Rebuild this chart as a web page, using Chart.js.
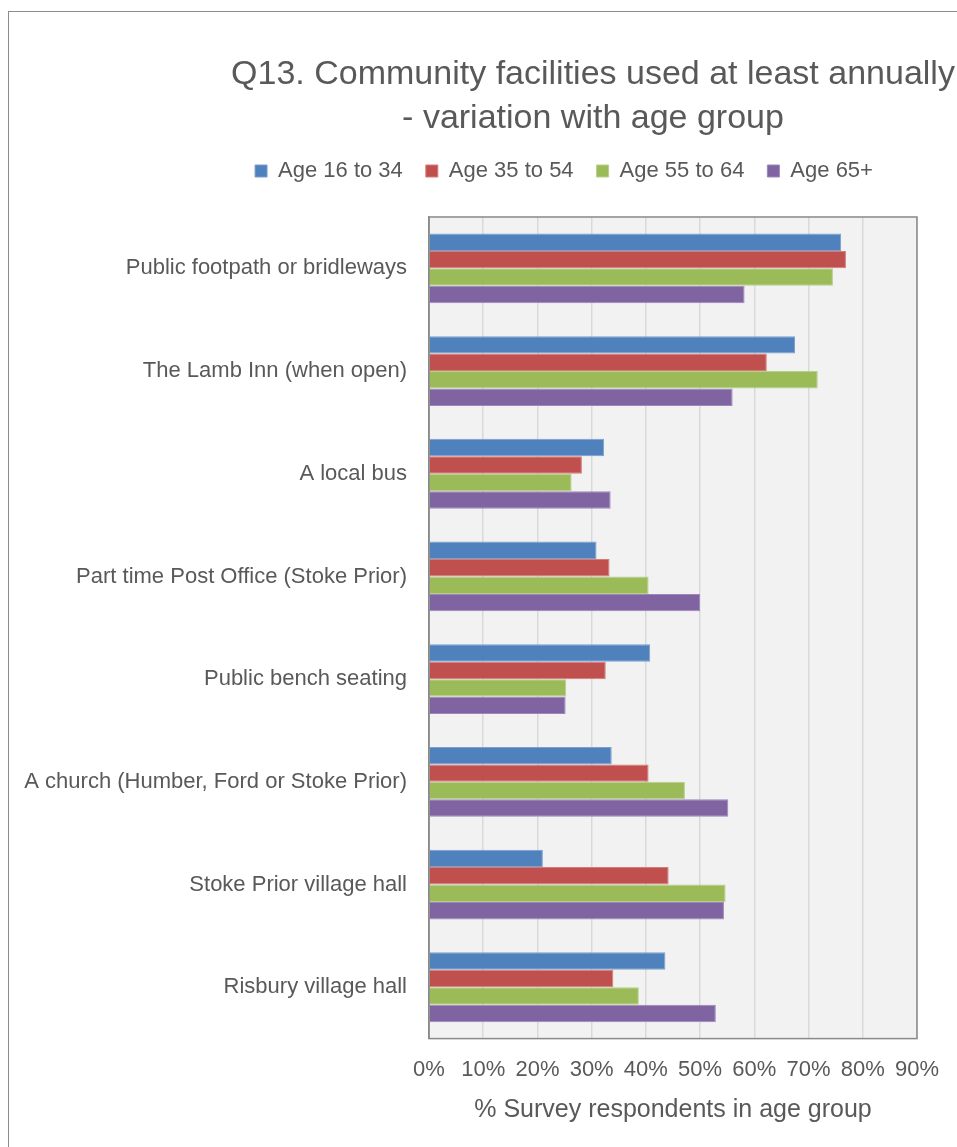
<!DOCTYPE html>
<html>
<head>
<meta charset="UTF-8">
<script src="https://cdn.jsdelivr.net/npm/chart.js@4"></script>
<style>
  html, body { margin: 0; padding: 0; background: #fff; overflow: hidden; }
  #wrap { position: relative; width: 957px; height: 1147px; overflow: hidden; }
  #frame { position: absolute; left: 8px; top: 11px; width: 2000px; height: 2000px; border: 1px solid #8c8c8c; }
  #chart { position: absolute; left: 0; top: 0; }
</style>
</head>
<body>
<div id="wrap">
  <div id="frame"></div>
  <canvas id="chart" width="957" height="1147"></canvas>
</div>
<script>
const categories = [
  "Public footpath or bridleways",
  "The Lamb Inn (when open)",
  "A local bus",
  "Part time Post Office (Stoke Prior)",
  "Public bench seating",
  "A church (Humber, Ford or Stoke Prior)",
  "Stoke Prior village hall",
  "Risbury village hall"
];
const seriesNames = ["Age 16 to 34", "Age 35 to 54", "Age 55 to 64", "Age 65+"];
const age16to34 = [76.0, 67.5, 32.3, 30.9, 40.8, 33.7, 21.0, 43.6];
const age35to54 = [76.9, 62.3, 28.2, 33.3, 32.6, 40.5, 44.2, 34.0];
const age55to64 = [74.5, 71.7, 26.3, 40.5, 25.3, 47.2, 54.7, 38.7];
const age65plus = [58.2, 56.0, 33.5, 50.0, 25.2, 55.2, 54.4, 52.9];
const xTicks = [0, 10, 20, 30, 40, 50, 60, 70, 80, 90];

const colors = ["#4f81bd", "#c0504d", "#9bbb59", "#8064a2"];
const edges = ["#7b9fd0", "#d57c79", "#b6d08a", "#9d86bd"];
const txt = "#595959";
const fontFam = "'Liberation Sans', Arial, sans-serif";

// grey plot background + frame round the plot area
const plotFrame = {
  id: "plotFrame",
  beforeDraw(chart) {
    const { ctx, chartArea: a } = chart;
    ctx.save();
    ctx.fillStyle = "#f2f2f2";
    ctx.fillRect(a.left, a.top, a.right - a.left, a.bottom - a.top);
    ctx.restore();
  },
  afterDraw(chart) {
    const { ctx, chartArea: a } = chart;
    ctx.save();
    ctx.strokeStyle = "#898989";
    ctx.lineWidth = 1.5;
    ctx.strokeRect(a.left, a.top, a.right - a.left, a.bottom - a.top);
    ctx.restore();
  }
};

// the original title is centred wider than the picture, legend sits a bit left
const headerPlacement = {
  id: "headerPlacement",
  afterLayout(chart) {
    const t = chart.titleBlock;
    t.left = 593 - 450;
    t.right = 593 + 450;
    const lg = chart.legend;
    const dx = 564 - (lg.left + lg.right) / 2;
    lg.left += dx;
    lg.right += dx;
    const dy = 137 - lg.top;
    lg.top += dy;
    lg.bottom += dy;
  }
};

const datasets = [age16to34, age35to54, age55to64, age65plus].map((d, i) => ({
  label: seriesNames[i],
  data: d,
  backgroundColor: colors[i],
  borderColor: edges[i],
  borderWidth: 1,
  borderSkipped: "start",
  categoryPercentage: 0.68,
  barPercentage: 1.0
}));

new Chart(document.getElementById("chart"), {
  type: "bar",
  data: { labels: categories, datasets },
  plugins: [plotFrame, headerPlacement],
  options: {
    indexAxis: "y",
    responsive: false,
    animation: false,
    devicePixelRatio: 1,
    layout: { padding: { left: 0, right: 39, top: 0, bottom: 22 } },
    plugins: {
      title: {
        display: true,
        text: ["Q13. Community facilities used at least annually", "- variation with age group"],
        color: txt,
        font: { family: fontFam, size: 34, weight: "normal", lineHeight: 1.294 },
        padding: { top: 53, bottom: 21 }
      },
      legend: {
        display: true,
        position: "top",
        labels: {
          color: txt,
          font: { family: fontFam, size: 22 },
          boxWidth: 12,
          boxHeight: 12,
          padding: 23
        }
      },
      tooltip: { enabled: false }
    },
    scales: {
      x: {
        type: "linear",
        min: 0,
        max: 90,
        afterBuildTicks(scale) { scale.ticks = xTicks.map(v => ({ value: v })); },
        ticks: {
          color: txt,
          font: { family: fontFam, size: 22 },
          padding: 18,
          callback: v => v + "%"
        },
        grid: { color: "#d9d9d9", lineWidth: 1.5, drawTicks: false },
        border: { display: false },
        title: {
          display: true,
          text: "% Survey respondents in age group",
          color: txt,
          font: { family: fontFam, size: 25 },
          padding: { top: -6, bottom: 0 }
        }
      },
      y: {
        ticks: {
          color: txt,
          font: { family: fontFam, size: 22 },
          padding: 22
        },
        grid: { display: false, drawTicks: false },
        border: { display: true, color: "#898989", width: 1.5 },
        afterFit(scale) { scale.width = 429; }
      }
    }
  }
});
</script>
</body>
</html>
